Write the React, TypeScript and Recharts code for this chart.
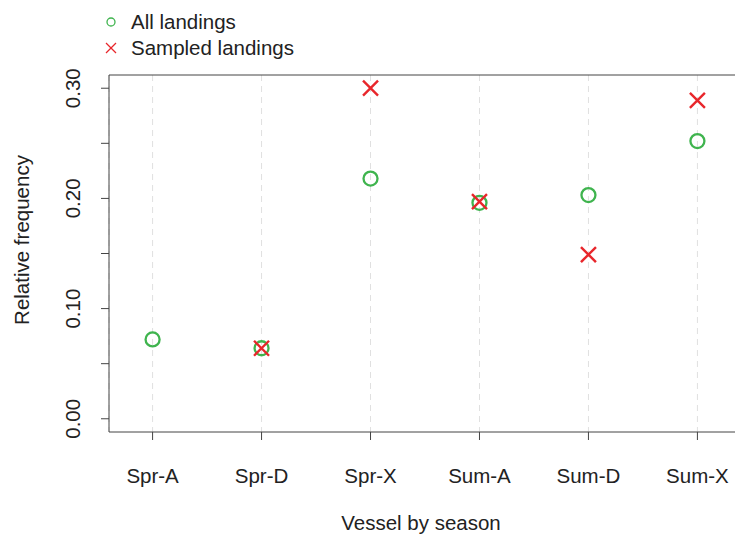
import React from "react";
import {
  ScatterChart,
  Scatter,
  XAxis,
  YAxis,
  CartesianGrid,
  ReferenceLine,
} from "recharts";

const categories = ["Spr-A", "Spr-D", "Spr-X", "Sum-A", "Sum-D", "Sum-X"];
const allLandings = [0.072, 0.064, 0.218, 0.196, 0.203, 0.252];
const sampledLandings = [null, 0.064, 0.3, 0.197, 0.149, 0.289];
const yTicks = [0, 0.05, 0.1, 0.15, 0.2, 0.25, 0.3];
const yLabelTicks = ["0.00", "0.10", "0.20", "0.30"];

const GREEN = "#3fb44e";
const RED = "#e8262b";
const AXIS = "#444";
const TEXT = "#222";
const FONT = "'Liberation Sans', Arial, sans-serif";

const allData = categories.map((c, i) => ({ x: i + 1, y: allLandings[i], name: c }));
const sampledData = categories
  .map((c, i) => ({ x: i + 1, y: sampledLandings[i], name: c }))
  .filter((d) => d.y !== null);

const Circle = (props: any) => (
  <circle cx={props.cx} cy={props.cy} r={7} fill="none" stroke={GREEN} strokeWidth={2.3} />
);

const Cross = (props: any) => {
  const { cx, cy } = props;
  const s = 7.5;
  return (
    <g stroke={RED} strokeWidth={2.4}>
      <line x1={cx - s} y1={cy - s} x2={cx + s} y2={cy + s} />
      <line x1={cx - s} y1={cy + s} x2={cx + s} y2={cy - s} />
    </g>
  );
};

const XTick = (props: any) => {
  const { x, y, payload } = props;
  return (
    <text x={x} y={y} textAnchor="middle" dominantBaseline="central" fill={TEXT} fontSize={20.5} fontFamily={FONT}>
      {categories[payload.value - 1]}
    </text>
  );
};

const YTick = (props: any) => {
  const { x, y, payload } = props;
  const label = payload.value.toFixed(2);
  if (!yLabelTicks.includes(label)) return <g />;
  return (
    <text
      x={x}
      y={y}
      transform={`rotate(-90, ${x}, ${y})`}
      textAnchor="middle"
      dominantBaseline="central"
      fill={TEXT}
      fontSize={20.5}
      fontFamily={FONT}
    >
      {label}
    </text>
  );
};

// y axis title, a little above the plot centre as in the original
const YTitle = () => (
  <text
    x={21}
    y={240}
    transform="rotate(-90, 21, 240)"
    textAnchor="middle"
    dominantBaseline="central"
    fill={TEXT}
    fontSize={20.5}
    fontFamily={FONT}
  >
    Relative frequency
  </text>
);

const Legend = () => (
  <div
    style={{
      position: "absolute",
      left: 104,
      top: 9,
      fontFamily: FONT,
      fontSize: 20.5,
      lineHeight: "26px",
      color: TEXT,
    }}
  >
    <div style={{ display: "flex", alignItems: "center" }}>
      <svg width={16} height={16} style={{ marginRight: 11 }}>
        <circle cx={7} cy={8} r={4} fill="none" stroke={GREEN} strokeWidth={1.3} />
      </svg>
      All landings
    </div>
    <div style={{ display: "flex", alignItems: "center" }}>
      <svg width={16} height={16} style={{ marginRight: 11 }}>
        <g stroke={RED} strokeWidth={1.3}>
          <line x1={2} y1={3} x2={12} y2={13} />
          <line x1={2} y1={13} x2={12} y2={3} />
        </g>
      </svg>
      Sampled landings
    </div>
  </div>
);

export default function App() {
  return (
    <div
      style={{
        position: "fixed",
        top: 0,
        left: 0,
        width: 735,
        height: 534,
        overflow: "hidden",
        background: "#fff",
      }}
    >
      <ScatterChart width={800} height={534} margin={{ top: 75, right: 59, bottom: 0, left: 0 }}>
        <CartesianGrid horizontal={false} stroke="#e0e0e0" strokeDasharray="6 5" />
        <XAxis
          type="number"
          dataKey="x"
          domain={[0.6, 6.4]}
          ticks={[1, 2, 3, 4, 5, 6]}
          allowDataOverflow
          height={102}
          stroke={AXIS}
          tickSize={8}
          tickMargin={35}
          tick={<XTick />}
          label={{
            value: "Vessel by season",
            position: "insideBottom",
            offset: 4,
            fill: TEXT,
            fontSize: 20.5,
            fontFamily: FONT,
            dx: -4,
          }}
        />
        <YAxis
          type="number"
          dataKey="y"
          domain={[-0.012, 0.312]}
          ticks={yTicks}
          allowDataOverflow
          width={109}
          stroke={AXIS}
          tickSize={8}
          tickMargin={28}
          tick={<YTick />}
          label={{ content: () => <YTitle /> }}
        />
        <ReferenceLine y={0.312} stroke={AXIS} />
        <Scatter data={allData} shape={Circle} isAnimationActive={false} />
        <Scatter data={sampledData} shape={Cross} isAnimationActive={false} />
      </ScatterChart>
      <Legend />
    </div>
  );
}
